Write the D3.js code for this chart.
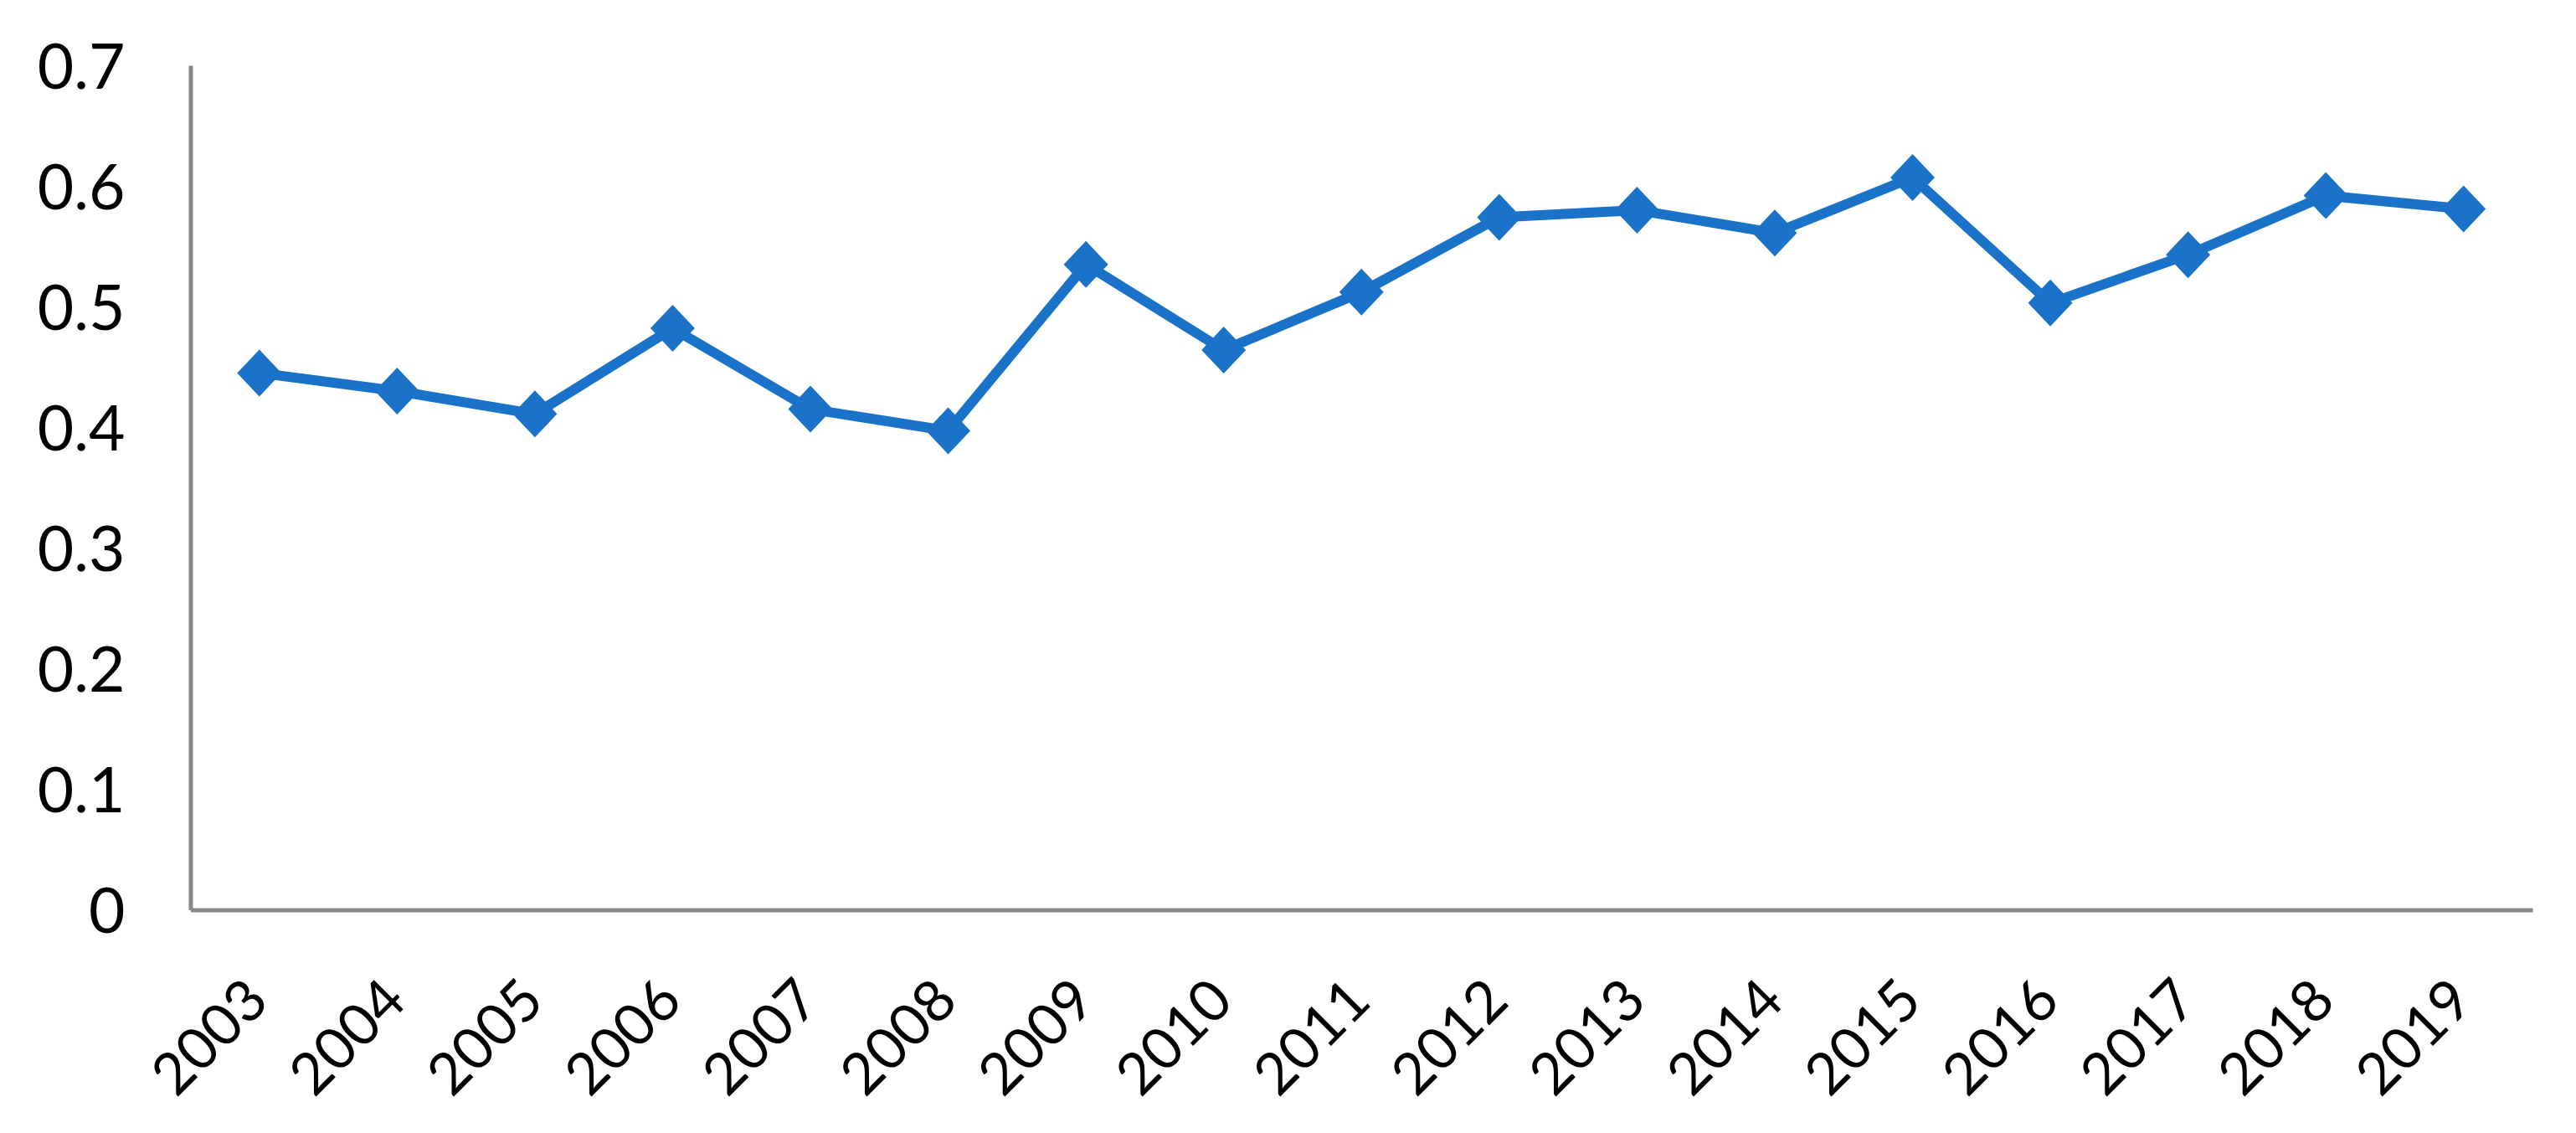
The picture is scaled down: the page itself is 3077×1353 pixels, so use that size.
<!DOCTYPE html>
<html>
<head>
<meta charset="utf-8">
<script src="https://cdn.jsdelivr.net/npm/d3@7"></script>
<style>
  html, body { margin: 0; padding: 0; background: #fff; }
  svg text { font-family: Lato, "Open Sans", sans-serif; fill: #000; }
</style>
</head>
<body>
<svg id="chart" width="3077" height="1353"></svg>
<script>
// data
const years = ["2003","2004","2005","2006","2007","2008","2009","2010","2011",
               "2012","2013","2014","2015","2016","2017","2018","2019"];
const values = [0.445, 0.430, 0.411, 0.482, 0.415, 0.397, 0.535, 0.464, 0.512,
                0.574, 0.580, 0.561, 0.607, 0.503, 0.543, 0.592, 0.581];
const yTicks = [0, 0.1, 0.2, 0.3, 0.4, 0.5, 0.6, 0.7];

const svg = d3.select("#chart");

const plotLeft = 227.5, plotRight = 3025, plotTop = 78, plotBottom = 1086.5;
const blue = "#1a73c8";
const axisGrey = "#898989";

const x = d3.scaleBand().domain(years).range([plotLeft, plotRight]);
const y = d3.scaleLinear().domain([0, 0.7]).range([plotBottom, plotTop]);

// --- y axis ---
const yAxis = svg.append("g")
  .attr("transform", `translate(${plotLeft},0)`)
  .call(d3.axisLeft(y).tickValues(yTicks).tickSize(0).tickPadding(78)
    .tickFormat(d => d === 0 ? "0" : d3.format(".1f")(d)));
yAxis.select(".domain").attr("stroke", axisGrey).attr("stroke-width", 5);
yAxis.selectAll("text")
  .attr("font-size", 75)
  .attr("dy", "0.36em");

// --- x axis ---
const xAxis = svg.append("g")
  .attr("transform", `translate(0,${plotBottom})`)
  .call(d3.axisBottom(x).tickSize(0).tickPadding(0));
xAxis.select(".domain").attr("stroke", axisGrey).attr("stroke-width", 5);
xAxis.selectAll("text")
  .attr("font-size", 69)
  .attr("text-anchor", "end")
  .attr("dy", 0)
  .attr("y", 0)
  .attr("transform", "translate(14,112) rotate(-45)");

// --- line + markers ---
const pts = years.map((yr, i) => ({ yr, v: values[i] }));

svg.append("path")
  .datum(pts)
  .attr("fill", "none")
  .attr("stroke", blue)
  .attr("stroke-width", 12)
  .attr("stroke-linejoin", "round")
  .attr("d", d3.line()
    .x(d => x(d.yr) + x.bandwidth() / 2)
    .y(d => y(d.v)));

svg.append("g")
  .selectAll("path")
  .data(pts)
  .enter()
  .append("path")
  .attr("d", "M0,-28L26.5,0L0,28L-26.5,0Z")
  .attr("fill", blue)
  .attr("transform", d => `translate(${x(d.yr) + x.bandwidth() / 2},${y(d.v)})`);
</script>
</body>
</html>
